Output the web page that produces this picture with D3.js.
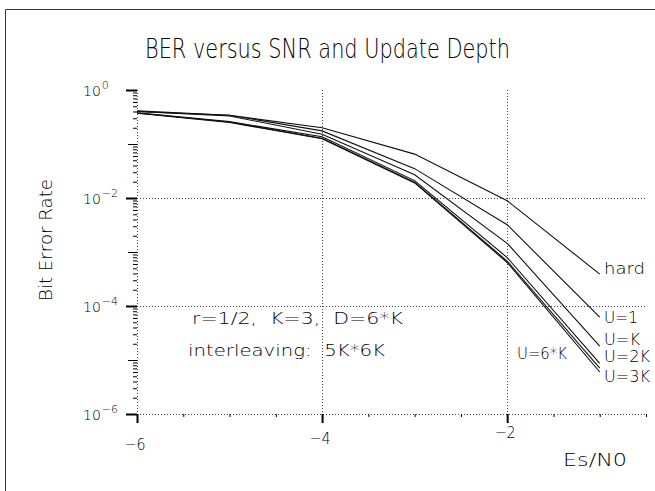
<!DOCTYPE html>
<html>
<head>
<meta charset="utf-8">
<script src="https://cdn.jsdelivr.net/npm/d3@7"></script>
<style>
  body { margin: 0; background: #fff; }
  text { font-family: "DejaVu Sans", sans-serif; font-weight: 200; fill: #000; }
</style>
</head>
<body>
<script>
const width = 655;
const height = 491;

// data
const snr = [-6, -5, -4, -3, -2, -1];
const seriesNames = ["hard", "U=1", "U=K", "U=2K", "U=3K", "U=6*K"];
const berHard = [0.40, 0.34, 0.20, 0.065, 0.0089, 3.9e-4];
const berU1 = [0.41, 0.34, 0.175, 0.035, 0.0032, 6.2e-5];
const berUK = [0.40, 0.33, 0.152, 0.027, 0.00145, 1.8e-5];
const berU2K = [0.38, 0.26, 0.136, 0.021, 7.9e-4, 8.7e-6];
const berU3K = [0.37, 0.25, 0.125, 0.019, 6.4e-4, 6.0e-6];
const berU6K = [0.375, 0.255, 0.128, 0.0195, 6.8e-4, 7.1e-6];
const xTicks = [-6, -4, -2];
const yTicks = [0, -2, -4, -6];

const allSeries = [berHard, berU1, berUK, berU2K, berU3K, berU6K];

const svg = d3.select("body").append("svg")
    .attr("width", width)
    .attr("height", height);

const x = d3.scaleLinear().domain([-6, -0.5]).range([137, 646]);
const y = d3.scaleLog().domain([1, 1e-6]).range([90, 414]);

// outer frame
svg.append("path")
    .attr("d", "M5.5,491V9.5H655")
    .attr("fill", "none")
    .attr("stroke", "#333")
    .attr("stroke-width", 1);

// wide stroke-font look: stretch text to the reference widths
function label(px, py, str, size, len, anchor) {
    const t = svg.append("text")
        .attr("x", px)
        .attr("y", py)
        .attr("font-size", size + "px")
        .attr("text-anchor", anchor || "start")
        .style("white-space", "pre")
        .text(str);
    if (len) t.attr("textLength", len).attr("lengthAdjust", "spacingAndGlyphs");
    return t;
}

// title
label(145, 58, "BER versus SNR and Update Depth", 27, 365);

// grid
const grid = svg.append("g")
    .attr("stroke", "#444")
    .attr("stroke-width", 1)
    .attr("stroke-dasharray", "1,2");

[-6, -4, -2].forEach(v => {
    grid.append("line")
        .attr("x1", Math.round(x(v)) + 0.5)
        .attr("x2", Math.round(x(v)) + 0.5)
        .attr("y1", y(1))
        .attr("y2", y(1e-6));
});
[1e-2, 1e-4, 1e-6].forEach(v => {
    grid.append("line")
        .attr("x1", x(-6))
        .attr("x2", x(-0.5))
        .attr("y1", Math.round(y(v)) + 0.5)
        .attr("y2", Math.round(y(v)) + 0.5);
});

// y axis ticks
const yMinor = [];
for (let e = 0; e > -6; e--) {
    for (let m = 2; m <= 9; m++) yMinor.push(m * Math.pow(10, e - 1));
}
const yAxisG = svg.append("g").attr("transform", `translate(${x(-6)},0)`);
yAxisG.append("g")
    .call(d3.axisLeft(y).tickValues(yMinor).tickSize(4).tickFormat(""))
    .call(g => g.select(".domain").remove());
yAxisG.append("g")
    .call(d3.axisLeft(y).tickValues([1e-1, 1e-3, 1e-5]).tickSize(9).tickFormat(""))
    .call(g => g.select(".domain").remove());
yAxisG.append("g")
    .call(d3.axisLeft(y).tickValues(yTicks.map(e => Math.pow(10, e))).tickSize(11).tickFormat(""))
    .call(g => g.select(".domain").remove())
    .selectAll("line").attr("stroke-width", 2);

yTicks.forEach(e => {
    const t = svg.append("text")
        .attr("x", 83)
        .attr("y", y(Math.pow(10, e)) + 6)
        .attr("font-size", "14px");
    t.append("tspan").text("10");
    t.append("tspan")
        .attr("dy", -7)
        .attr("dx", 1)
        .attr("font-size", "11px")
        .text(e === 0 ? "0" : "\u2212" + Math.abs(e));
});

// x axis ticks
const xMinor = d3.range(-5.5, -0.4, 0.5).filter(v => !xTicks.includes(v));
const xAxisG = svg.append("g").attr("transform", `translate(0,${y(1e-6)})`);
xAxisG.append("g")
    .call(d3.axisBottom(x).tickValues(xMinor).tickSize(3).tickFormat(""))
    .call(g => g.select(".domain").remove());
xAxisG.append("g")
    .call(d3.axisBottom(x).tickValues(xTicks).tickSize(9).tickFormat(""))
    .call(g => g.select(".domain").remove())
    .selectAll("line").attr("stroke-width", 2);

xTicks.forEach(v => {
    label(x(v) - 2, 450 - (v + 6) * 3, "\u2212" + Math.abs(v), 16, 21, "middle");
});

// axis titles
label(563, 466, "Es/N0", 17, 64);

svg.append("text")
    .attr("transform", "translate(52,240) rotate(-90)")
    .attr("text-anchor", "middle")
    .attr("font-size", "18px")
    .attr("textLength", 122)
    .attr("lengthAdjust", "spacingAndGlyphs")
    .style("white-space", "pre")
    .text("Bit Error Rate");

// curves
const line = d3.line()
    .x((d, i) => x(snr[i]))
    .y(d => y(d));

svg.append("g")
    .selectAll("path")
    .data(allSeries)
    .join("path")
    .attr("d", line)
    .attr("fill", "none")
    .attr("stroke", "#111")
    .attr("stroke-width", 1.1);

// curve labels: x, baseline, stretched width
const labelPos = [[604, 274, 41], [604, 323, 34], [604, 345, 36], [604, 362, 46], [604, 382, 46], [517, 359, 50]];
seriesNames.forEach((name, i) => {
    label(labelPos[i][0], labelPos[i][1], name, 15, labelPos[i][2]);
});

// annotation
label(192, 324, "r=1/2,  K=3,  D=6*K", 16, 211);
label(188, 356, "interleaving:  5K*6K", 16, 197);
</script>
</body>
</html>
